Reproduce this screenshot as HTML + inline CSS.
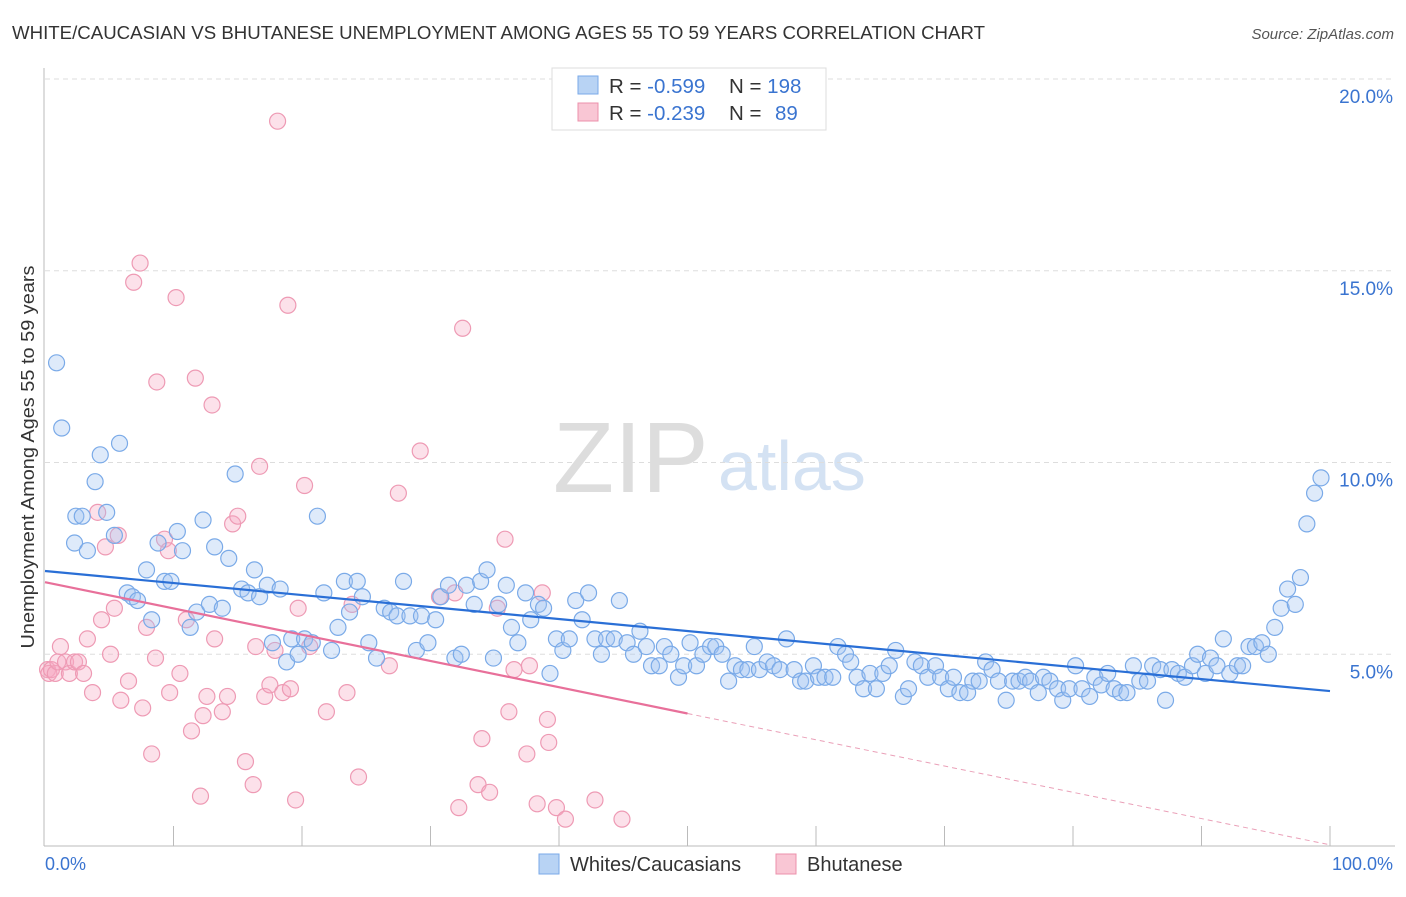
<!DOCTYPE html>
<html><head><meta charset="utf-8"><style>
body{margin:0;background:#fff;font-family:"Liberation Sans",sans-serif}
svg text{font-family:"Liberation Sans",sans-serif}
</style></head><body>
<svg width="1406" height="892" viewBox="0 0 1406 892">
<text x="12" y="39" font-size="18" fill="#333" textLength="973" lengthAdjust="spacingAndGlyphs">WHITE/CAUCASIAN VS BHUTANESE UNEMPLOYMENT AMONG AGES 55 TO 59 YEARS CORRELATION CHART</text>
<text x="1394" y="39" font-size="15" fill="#555" font-style="italic" text-anchor="end">Source: ZipAtlas.com</text>
<text x="553" y="492" font-size="100" fill="#ddd" font-family="Liberation Serif">ZIP</text>
<text x="718" y="490" font-size="70" fill="#d4e2f3">atlas</text>
<g id="grid"></g>
<g id="axes"></g>
<g id="pink"></g>
<g id="blue"></g>
<g id="trends"></g>
<text transform="translate(34,457) rotate(-90)" font-size="18" fill="#333" text-anchor="middle" textLength="383" lengthAdjust="spacingAndGlyphs">Unemployment Among Ages 55 to 59 years</text>
<text x="45" y="870" font-size="18" fill="#3a74d0">0.0%</text>
<text x="1393" y="870" font-size="18" fill="#3a74d0" text-anchor="end">100.0%</text>
<g>
<rect x="552" y="68" width="274" height="62" fill="#fff" stroke="#ddd"/>
<rect x="578" y="76" width="20" height="18" fill="#b8d3f4" stroke="#7aaae8"/>
<rect x="578" y="103" width="20" height="18" fill="#f9c6d4" stroke="#ec90ab"/>
<text x="609" y="93" font-size="20.5" fill="#333">R = <tspan fill="#3a74d0">-0.599</tspan><tspan x="729">N = </tspan><tspan fill="#3a74d0">198</tspan></text>
<text x="609" y="120" font-size="20.5" fill="#333">R = <tspan fill="#3a74d0">-0.239</tspan><tspan x="729">N = </tspan><tspan fill="#3a74d0" x="775">89</tspan></text>
</g>
<g>
<rect x="539" y="854" width="20" height="20" fill="#b8d3f4" stroke="#7aaae8"/>
<text x="570" y="871" font-size="20" fill="#333">Whites/Caucasians</text>
<rect x="776" y="854" width="20" height="20" fill="#f9c6d4" stroke="#ec90ab"/>
<text x="807" y="871" font-size="20" fill="#333">Bhutanese</text>
</g>
</svg>
<script>
const yTicks=[5,10,15,20];
const yTickLabels=["5.0%","10.0%","15.0%","20.0%"];
const xTicks=[10,20,30,40,50,60,70,80,90,100];
const blueX=[0.9,1.3,2.3,2.4,2.9,3.3,3.9,4.3,4.8,5.4,5.8,6.4,6.8,7.2,7.9,8.3,8.8,9.3,9.8,10.3,10.7,11.3,11.8,12.3,12.8,13.2,13.8,14.3,14.8,15.3,15.8,16.3,16.7,17.3,17.7,18.3,18.8,19.2,19.7,20.2,20.8,21.2,21.7,22.3,22.8,23.3,23.7,24.3,24.7,25.2,25.8,26.4,26.9,27.4,27.9,28.4,28.9,29.3,29.8,30.4,30.8,31.4,31.9,32.4,32.8,33.4,33.9,34.4,34.9,35.3,35.9,36.3,36.8,37.4,37.8,38.4,38.8,39.3,39.8,40.3,40.8,41.3,41.8,42.3,42.8,43.3,43.7,44.3,44.7,45.3,45.8,46.3,46.8,47.2,47.8,48.2,48.7,49.3,49.7,50.2,50.7,51.2,51.8,52.2,52.7,53.2,53.7,54.2,54.7,55.2,55.6,56.2,56.7,57.2,57.7,58.3,58.8,59.2,59.8,60.2,60.7,61.3,61.7,62.3,62.7,63.2,63.7,64.2,64.7,65.2,65.7,66.2,66.8,67.2,67.7,68.2,68.7,69.3,69.7,70.3,70.7,71.2,71.8,72.2,72.7,73.2,73.7,74.2,74.8,75.3,75.8,76.3,76.7,77.3,77.7,78.2,78.8,79.2,79.7,80.2,80.7,81.3,81.7,82.2,82.7,83.2,83.7,84.2,84.7,85.2,85.8,86.2,86.8,87.2,87.7,88.2,88.7,89.3,89.7,90.3,90.7,91.2,91.7,92.2,92.8,93.2,93.7,94.2,94.7,95.2,95.7,96.2,96.7,97.3,97.7,98.2,98.8,99.3];
const blueY=[12.6,10.9,7.9,8.6,8.6,7.7,9.5,10.2,8.7,8.1,10.5,6.6,6.5,6.4,7.2,5.9,7.9,6.9,6.9,8.2,7.7,5.7,6.1,8.5,6.3,7.8,6.2,7.5,9.7,6.7,6.6,7.2,6.5,6.8,5.3,6.7,4.8,5.4,5.0,5.4,5.3,8.6,6.6,5.1,5.7,6.9,6.1,6.9,6.5,5.3,4.9,6.2,6.1,6.0,6.9,6.0,5.1,6.0,5.3,5.9,6.5,6.8,4.9,5.0,6.8,6.3,6.9,7.2,4.9,6.3,6.8,5.7,5.3,6.6,5.9,6.3,6.2,4.5,5.4,5.1,5.4,6.4,5.9,6.6,5.4,5.0,5.4,5.4,6.4,5.3,5.0,5.6,5.2,4.7,4.7,5.2,5.0,4.4,4.7,5.3,4.7,5.0,5.2,5.2,5.0,4.3,4.7,4.6,4.6,5.2,4.6,4.8,4.7,4.6,5.4,4.6,4.3,4.3,4.7,4.4,4.4,4.4,5.2,5.0,4.8,4.4,4.1,4.5,4.1,4.5,4.7,5.1,3.9,4.1,4.8,4.7,4.4,4.7,4.4,4.1,4.4,4.0,4.0,4.3,4.3,4.8,4.6,4.3,3.8,4.3,4.3,4.4,4.3,4.0,4.4,4.3,4.1,3.8,4.1,4.7,4.1,3.9,4.4,4.2,4.5,4.1,4.0,4.0,4.7,4.3,4.3,4.7,4.6,3.8,4.6,4.5,4.4,4.7,5.0,4.5,4.9,4.7,5.4,4.5,4.7,4.7,5.2,5.2,5.3,5.0,5.7,6.2,6.7,6.3,7.0,8.4,9.2,9.6];
const pinkX=[0.2,0.3,0.5,0.8,1.0,1.2,1.6,1.9,2.3,2.6,3.0,3.3,3.7,4.1,4.4,4.7,5.1,5.4,5.7,5.9,6.5,6.9,7.4,7.6,7.9,8.3,8.6,8.7,9.3,9.6,9.7,10.2,10.5,11.0,11.4,11.7,12.1,12.3,12.6,13.0,13.2,13.8,14.2,14.6,15.0,15.6,16.2,16.4,16.7,17.1,17.5,17.9,18.1,18.5,18.9,19.1,19.5,19.7,20.2,20.6,21.9,23.5,23.9,24.4,26.8,27.5,29.2,30.7,31.9,32.2,32.5,33.7,34.0,34.6,35.2,36.1,35.8,36.5,37.5,37.7,38.3,38.7,39.1,39.2,39.8,40.5,42.8,44.9];
const pinkY=[4.6,4.5,4.6,4.5,4.8,5.2,4.8,4.5,4.8,4.8,4.5,5.4,4.0,8.7,5.9,7.8,5.0,6.2,8.1,3.8,4.3,14.7,15.2,3.6,5.7,2.4,4.9,12.1,8.0,7.7,4.0,14.3,4.5,5.9,3.0,12.2,1.3,3.4,3.9,11.5,5.4,3.5,3.9,8.4,8.6,2.2,1.6,5.2,9.9,3.9,4.2,5.1,18.9,4.0,14.1,4.1,1.2,6.2,9.4,5.2,3.5,4.0,6.3,1.8,4.7,9.2,10.3,6.5,6.6,1.0,13.5,1.6,2.8,1.4,6.2,3.5,8.0,4.6,2.4,4.7,1.1,6.6,3.3,2.7,1.0,0.7,1.2,0.7];
const blueTrend=[7.17,4.04];
const pinkTrend=[6.88,0.03];
const pinkSolidEnd=50;
const NS='http://www.w3.org/2000/svg';
const X0=45,X1=1330,Y0=846,Y20=79;
const sx=v=>X0+(X1-X0)*v/100;
const sy=v=>Y0-(Y0-Y20)*v/20;
function mk(tag,attrs,parent){const e=document.createElementNS(NS,tag);for(const k in attrs)e.setAttribute(k,attrs[k]);parent.appendChild(e);return e;}
const grid=document.getElementById('grid');
yTicks.forEach((t,i)=>{
  const l=mk('line',{x1:45,x2:1395,y1:sy(t),y2:sy(t),stroke:'#ddd','stroke-dasharray':'5,4'},grid);
  
  
  const tx=mk('text',{x:1393,y:sy(t)+24,'font-size':19,fill:'#3a74d0','text-anchor':'end'},grid);
  tx.textContent=yTickLabels[i];
  
  
});
const axes=document.getElementById('axes');
const ya=mk('line',{x1:44,x2:44,y1:68,y2:846,stroke:'#bbb'},axes);


const xa=mk('line',{x1:44,x2:1395,y1:846,y2:846,stroke:'#bbb'},axes);


xTicks.forEach(t=>{
  const l=mk('line',{x1:sx(t),x2:sx(t),y1:826,y2:846,stroke:'#bbb'},axes);
  
  
});
function dots(xs,ys,g,fill,stroke,name){
  xs.forEach((x,i)=>{
    const c=mk('circle',{cx:sx(x),cy:sy(ys[i]),r:8,fill:fill,stroke:stroke,'stroke-width':1.2},g);
    
    
  });
}
dots(pinkX,pinkY,document.getElementById('pink'),'rgba(246,170,195,0.35)','#ee9ab4','bhutanese-point');
dots(blueX,blueY,document.getElementById('blue'),'rgba(160,196,240,0.35)','#7aaae8','white-point');
const tr=document.getElementById('trends');
const bt=mk('line',{x1:sx(0),y1:sy(blueTrend[0]),x2:sx(100),y2:sy(blueTrend[1]),stroke:'#2a6fd6','stroke-width':2.2},tr);


const pAt=x=>pinkTrend[0]+(pinkTrend[1]-pinkTrend[0])*x/100;
const pt=mk('line',{x1:sx(0),y1:sy(pAt(0)),x2:sx(pinkSolidEnd),y2:sy(pAt(pinkSolidEnd)),stroke:'#e8709a','stroke-width':2.2},tr);


const pd=mk('line',{x1:sx(pinkSolidEnd),y1:sy(pAt(pinkSolidEnd)),x2:sx(100),y2:sy(pAt(100)),stroke:'#eaa0b8','stroke-width':1,'stroke-dasharray':'5,4'},tr);


</script>
</body></html>
